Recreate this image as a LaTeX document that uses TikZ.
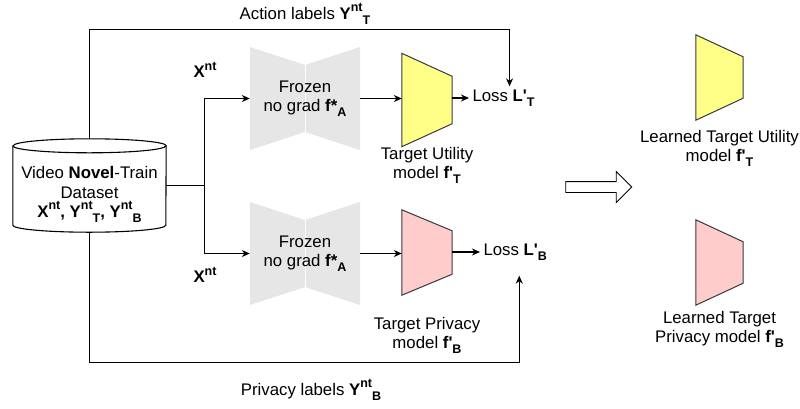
\documentclass[tikz,border=0pt]{standalone}
\usepackage{fontspec}
\setmainfont{Liberation Sans}
\usetikzlibrary{positioning,calc,shapes.arrows,arrows.meta}

\definecolor{frozengray}{HTML}{E6E6E6}
\definecolor{utilyellow}{HTML}{FFFF88}
\definecolor{privpink}{HTML}{FFCCCC}
\definecolor{edgegray}{HTML}{36393D}

% raised / lowered index text
\newcommand{\hisup}[1]{\raisebox{0.45em}{\fontsize{12.5}{12.5}\selectfont #1}}
\newcommand{\losub}[1]{\raisebox{-0.28em}{\fontsize{12.5}{12.5}\selectfont #1}}
% trapezoid model drawn in a box node: node, inset, fill
\newcommand{\drawtrap}[3]{%
  \draw[line width=1pt, draw=edgegray, fill=#3] (#1.north west)
    -- ($(#1.north east)+(0,-#2)$) -- ($(#1.south east)+(0,#2)$)
    -- (#1.south west) -- cycle;}

\begin{document}
\begin{tikzpicture}[
x=1pt, y=-1pt,
every node/.style={font=\fontsize{16.8}{19.4}\selectfont},
conn/.style={
  draw,
  line width=1.1pt,
  -{Stealth[length=8pt,width=7pt]}
},
frozen/.style={
  rectangle,
  minimum width=110pt,
  minimum height=103pt,
  align=center,
  path picture={
    \fill[frozengray] (path picture bounding box.north west)
      -- ($(path picture bounding box.north)+(0,-18pt)$)
      -- (path picture bounding box.north east)
      -- (path picture bounding box.south east)
      -- ($(path picture bounding box.south)+(0,18pt)$)
      -- (path picture bounding box.south west) -- cycle;
    \draw[white, line width=0.6pt] ($(path picture bounding box.north)+(0,-18pt)$)
      -- ($(path picture bounding box.south)+(0,18pt)$);
  }
},
trapbox/.style={rectangle, inner sep=0pt},
txt/.style={align=center, inner sep=0pt}
]
\useasboundingbox (0,0) rectangle (800,408);

% dataset cylinder
\node[rectangle, minimum width=153pt, minimum height=93pt, inner sep=0pt, align=center]
  (data) at (89.5,185.5) {};
\draw[line width=1.1pt, fill=white] ($(data.north west)+(0,-7pt)$)
  -- ($(data.south west)+(0,7pt)$) arc[start angle=180, end angle=360, x radius=76.5pt, y radius=7pt]
  -- ($(data.north east)+(0,-7pt)$) arc[start angle=0, end angle=180, x radius=76.5pt, y radius=7pt]
  -- cycle;
\draw[line width=1.1pt] ($(data.north west)+(0,-7pt)$)
  arc[start angle=180, end angle=360, x radius=76.5pt, y radius=7pt];
\node[align=center] at (data) {\rule{0pt}{30pt}Video \textbf{Novel}-Train\\Dataset\\
  \textbf{X\hisup{nt}, Y\hisup{nt}\losub{T}, Y\hisup{nt}\losub{B}}};

% frozen encoders
\node[frozen] (frzT) at (305,98.5) {Frozen\\no grad \textbf{f*\losub{A}}};
\node[frozen] (frzB) at (305,253.5) {Frozen\\no grad \textbf{f*\losub{A}}};
\node (xT) at (205,70) {\textbf{X\hisup{nt}}};
\node (xB) at (205,275) {\textbf{X\hisup{nt}}};

% target models
\node[trapbox, minimum width=50pt, minimum height=93pt] (utilT) at (427,100) {};
\drawtrap{utilT}{23pt}{utilyellow}
\node[trapbox, minimum width=50pt, minimum height=85pt] (privB) at (427,252.5) {};
\drawtrap{privB}{21pt}{privpink}
\node[txt, below=0pt of utilT] (utilTtxt) {Target Utility\\model \textbf{f\textquotesingle\losub{T}}};
\node[txt, below=22pt of privB] (privBtxt) {Target Privacy\\model \textbf{f\textquotesingle\losub{B}}};

% losses
\node[anchor=west] (lossT) at (469,98) {Loss \textbf{L\textquotesingle\losub{T}}};
\node[anchor=west] (lossB) at (480,252) {Loss \textbf{L\textquotesingle\losub{B}}};

% label texts
\node (actlbl) at (305,14) {Action labels \textbf{Y\hisup{nt}\losub{T}}};
\node (privlbl) at (311,390) {Privacy labels \textbf{Y\hisup{nt}\losub{B}}};

% connectors
\draw[conn] (data.east) -- ++(38,0) coordinate (split) |- (frzT);
\draw[conn] (split) |- (frzB);
\draw[conn] (frzT) -- (frzT -| utilT.west);
\draw[conn] (frzB) -- (frzB -| privB.west);
\draw[conn] (utilT.east |- lossT) -- (lossT);
\draw[conn] (privB.east |- lossB) -- (lossB);
\draw[conn] (data.north) -- ++(0,-109) -| ([xshift=6pt]lossT.north);
\draw[conn, shorten >=12pt] (data.south) -- ++(0,130) -| ([xshift=4pt]lossB.south);

% hollow arrow
\node[single arrow, draw, line width=0.9pt, fill=white, minimum height=66pt, minimum width=30pt,
  inner sep=5pt, single arrow head extend=10pt] (goto) at (596,187) {};

% learned models
\node[trapbox, minimum width=47pt, minimum height=85pt] (learnT) at (719.5,77.5) {};
\drawtrap{learnT}{22pt}{utilyellow}
\node[trapbox, minimum width=47pt, minimum height=85pt] (learnB) at (719.5,262.5) {};
\drawtrap{learnB}{22pt}{privpink}
\node[txt, below=10pt of learnT] (learnTtxt) {Learned Target Utility\\model \textbf{f\textquotesingle\losub{T}}};
\node[txt, below=6pt of learnB] (learnBtxt) {Learned Target\\Privacy model \textbf{f\textquotesingle\losub{B}}};
\end{tikzpicture}
\end{document}
